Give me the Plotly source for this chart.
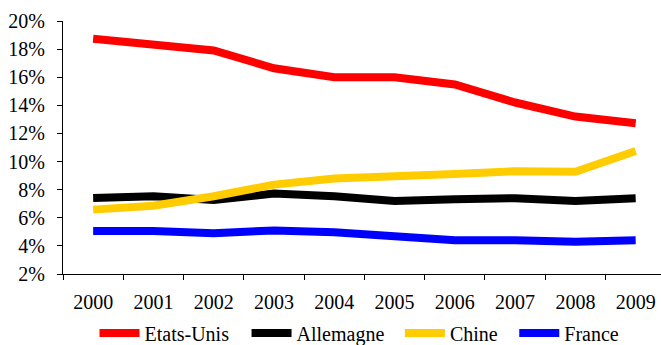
import plotly.graph_objects as go

years = ["2000", "2001", "2002", "2003", "2004", "2005", "2006", "2007", "2008", "2009"]
etats_unis = [18.73, 18.25, 17.9, 16.64, 16.0, 16.0, 15.48, 14.2, 13.2, 12.72]
allemagne = [7.41, 7.53, 7.27, 7.72, 7.53, 7.2, 7.31, 7.39, 7.2, 7.39]
chine = [6.58, 6.86, 7.53, 8.36, 8.79, 8.9, 9.12, 9.31, 9.28, 10.75]
france = [5.06, 5.06, 4.9, 5.1, 4.97, 4.7, 4.4, 4.4, 4.3, 4.4]

series = [
    ("Etats-Unis", etats_unis, "#FF0000"),
    ("Allemagne", allemagne, "#000000"),
    ("Chine", chine, "#FFCC00"),
    ("France", france, "#0000FF"),
]
y_ticks = [2, 4, 6, 8, 10, 12, 14, 16, 18, 20]
y_labels = ["2%", "4%", "6%", "8%", "10%", "12%", "14%", "16%", "18%", "20%"]

# legend entry left positions (fraction of figure width)
legend_x = [0.143, 0.373, 0.605, 0.778]
legend_names = ["legend", "legend2", "legend3", "legend4"]

FAM = "Liberation Serif"
txt = dict(family=FAM, size=20, color="#000000")

fig = go.Figure()
for (name, vals, color), lg in zip(series, legend_names):
    fig.add_trace(go.Scatter(x=years, y=vals, name=name, mode="lines", legend=lg,
                             line=dict(color=color, width=8)))

legend_common = dict(orientation="h", xanchor="left", xref="container",
                     y=0.035, yanchor="middle", yref="container", font=txt,
                     itemwidth=40, bgcolor="rgba(0,0,0,0)", borderwidth=0)
layout_legends = {lg: dict(x=lx, **legend_common) for lg, lx in zip(legend_names, legend_x)}

fig.update_layout(
    template="none",
    width=661, height=345,
    margin=dict(l=63, r=0, t=21, b=71, autoexpand=False),
    paper_bgcolor="white", plot_bgcolor="white",
    font=txt,
    showlegend=True,
    **layout_legends,
)
fig.update_xaxes(type="category", range=[-0.5, 9.42], showline=True, linecolor="#000000",
                 linewidth=1, ticks="outside", ticklen=5, tickcolor="#000000",
                 tickson="boundaries", showgrid=False, zeroline=False,
                 ticklabelstandoff=10, tickfont=txt)
fig.update_yaxes(range=[2, 20], tickmode="array", tickvals=y_ticks, ticktext=y_labels,
                 showline=True, linecolor="#000000", linewidth=1, ticks="outside", ticklen=5,
                 tickcolor="#000000", showgrid=False, zeroline=False,
                 ticklabelstandoff=8, tickfont=txt)

fig.write_html("out.html")
